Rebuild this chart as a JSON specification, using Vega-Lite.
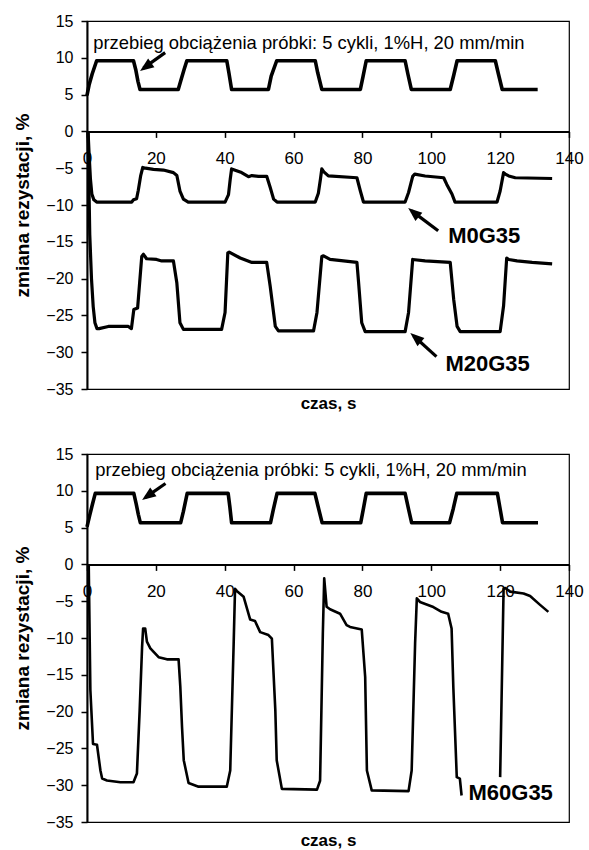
{
  "$schema": "https://vega.github.io/schema/vega-lite/v6.json",
  "background": "white",
  "padding": {"left": 13, "top": 12, "right": 2, "bottom": 0},
  "config": {
    "font": "Liberation Sans",
    "view": {"stroke": "#000", "strokeWidth": 1.2},
    "axis": {"grid": false, "domainColor": "#000", "tickColor": "#000", "labelColor": "#000", "titleColor": "#000", "domainWidth": 2, "tickWidth": 1.5, "labelFont": "Liberation Sans", "titleFont": "Liberation Sans", "labelOverlap": false, "labelSeparation": 0}
  },
  "datasets": {
    "load1": [
      {"t": 0, "v": 4.9}, {"t": 0.6, "v": 6.3}, {"t": 1.5, "v": 7.8}, {"t": 2.8, "v": 9.6},
      {"t": 13.5, "v": 9.6}, {"t": 14.2, "v": 8.3}, {"t": 14.8, "v": 6.8}, {"t": 15.4, "v": 5.7},
      {"t": 26.5, "v": 5.7}, {"t": 27.3, "v": 7.0}, {"t": 28.2, "v": 8.4}, {"t": 29.0, "v": 9.6},
      {"t": 40.6, "v": 9.6}, {"t": 41.2, "v": 8.0}, {"t": 42.0, "v": 5.7},
      {"t": 52.7, "v": 5.7}, {"t": 53.5, "v": 7.5}, {"t": 55.1, "v": 9.6},
      {"t": 66.3, "v": 9.6}, {"t": 67.0, "v": 8.0}, {"t": 68.2, "v": 5.7},
      {"t": 79.4, "v": 5.7}, {"t": 80.2, "v": 7.5}, {"t": 81.1, "v": 9.6},
      {"t": 92.4, "v": 9.6}, {"t": 93.2, "v": 7.8}, {"t": 94.2, "v": 5.7},
      {"t": 105.5, "v": 5.7}, {"t": 106.5, "v": 7.6}, {"t": 107.5, "v": 9.6},
      {"t": 118.6, "v": 9.6}, {"t": 119.5, "v": 7.8}, {"t": 120.6, "v": 5.7},
      {"t": 130.9, "v": 5.7}
    ],
    "m0": [
      {"t": 0.3, "v": 0}, {"t": 0.6, "v": -3.0}, {"t": 1.0, "v": -6.5}, {"t": 1.4, "v": -8.5}, {"t": 2.0, "v": -9.3}, {"t": 2.8, "v": -9.6},
      {"t": 13.0, "v": -9.6}, {"t": 13.5, "v": -9.3}, {"t": 14.4, "v": -9.15}, {"t": 14.9, "v": -8.0}, {"t": 15.6, "v": -6.0}, {"t": 16.2, "v": -4.9},
      {"t": 17.0, "v": -5.0}, {"t": 19.3, "v": -5.15}, {"t": 22.2, "v": -5.25}, {"t": 25.1, "v": -5.6}, {"t": 26.1, "v": -6.0}, {"t": 27.0, "v": -8.1},
      {"t": 28.0, "v": -9.2}, {"t": 29.4, "v": -9.6}, {"t": 40.1, "v": -9.6}, {"t": 41.1, "v": -8.6}, {"t": 41.6, "v": -6.5}, {"t": 42.0, "v": -5.1},
      {"t": 44.9, "v": -5.6}, {"t": 46.9, "v": -6.15}, {"t": 47.9, "v": -6.0}, {"t": 49.8, "v": -6.1}, {"t": 52.2, "v": -6.1}, {"t": 53.2, "v": -7.6},
      {"t": 54.2, "v": -9.2}, {"t": 55.2, "v": -9.6}, {"t": 66.3, "v": -9.6}, {"t": 67.2, "v": -8.4}, {"t": 67.8, "v": -6.5}, {"t": 68.2, "v": -5.1},
      {"t": 68.8, "v": -5.5}, {"t": 70.1, "v": -6.05}, {"t": 78.4, "v": -6.3}, {"t": 79.4, "v": -8.1}, {"t": 80.3, "v": -9.6}, {"t": 92.4, "v": -9.6},
      {"t": 93.4, "v": -8.3}, {"t": 94.6, "v": -6.1}, {"t": 95.2, "v": -5.8}, {"t": 98.2, "v": -6.06}, {"t": 103.6, "v": -6.3}, {"t": 104.5, "v": -7.2},
      {"t": 106.0, "v": -8.5}, {"t": 106.9, "v": -9.6}, {"t": 119.1, "v": -9.6}, {"t": 120.0, "v": -8.1}, {"t": 121.0, "v": -5.6}, {"t": 121.5, "v": -5.8},
      {"t": 122.5, "v": -6.05}, {"t": 124.4, "v": -6.3}, {"t": 135.1, "v": -6.4}
    ],
    "m20": [
      {"t": 0.3, "v": 0}, {"t": 0.8, "v": -14.0}, {"t": 1.3, "v": -20.0}, {"t": 1.8, "v": -23.8}, {"t": 2.3, "v": -26.0}, {"t": 2.9, "v": -26.8},
      {"t": 3.5, "v": -26.8}, {"t": 6.2, "v": -26.5}, {"t": 12.0, "v": -26.5}, {"t": 12.9, "v": -26.8}, {"t": 13.6, "v": -24.2}, {"t": 14.7, "v": -24.0},
      {"t": 15.3, "v": -20.5}, {"t": 15.9, "v": -17.0}, {"t": 16.4, "v": -16.7}, {"t": 17.3, "v": -17.3}, {"t": 20.2, "v": -17.4}, {"t": 21.7, "v": -17.6},
      {"t": 25.1, "v": -17.6}, {"t": 26.1, "v": -20.6}, {"t": 27.0, "v": -26.0}, {"t": 28.0, "v": -26.9}, {"t": 39.1, "v": -26.9}, {"t": 40.1, "v": -24.6},
      {"t": 40.9, "v": -16.5}, {"t": 41.3, "v": -16.4}, {"t": 44.5, "v": -17.2}, {"t": 47.9, "v": -17.8}, {"t": 52.2, "v": -17.8}, {"t": 53.2, "v": -21.0},
      {"t": 54.7, "v": -26.5}, {"t": 55.6, "v": -27.1}, {"t": 65.8, "v": -27.1}, {"t": 66.8, "v": -24.6}, {"t": 68.2, "v": -17.0}, {"t": 68.7, "v": -16.9},
      {"t": 70.6, "v": -17.4}, {"t": 78.4, "v": -17.8}, {"t": 78.9, "v": -20.6}, {"t": 79.8, "v": -26.0}, {"t": 80.8, "v": -27.2}, {"t": 92.4, "v": -27.2},
      {"t": 93.4, "v": -24.6}, {"t": 94.6, "v": -17.4}, {"t": 98.2, "v": -17.6}, {"t": 105.5, "v": -17.8}, {"t": 106.5, "v": -22.8}, {"t": 107.5, "v": -26.5},
      {"t": 108.4, "v": -27.2}, {"t": 120.0, "v": -27.2}, {"t": 121.0, "v": -23.7}, {"t": 121.9, "v": -17.2}, {"t": 122.5, "v": -17.4}, {"t": 124.9, "v": -17.6},
      {"t": 129.3, "v": -17.8}, {"t": 135.1, "v": -18.0}
    ],
    "load2": [
      {"t": 0, "v": 5.1}, {"t": 0.8, "v": 6.7}, {"t": 1.6, "v": 8.2}, {"t": 2.4, "v": 9.65},
      {"t": 13.6, "v": 9.65}, {"t": 14.3, "v": 8.2}, {"t": 14.9, "v": 6.8}, {"t": 15.5, "v": 5.65},
      {"t": 27.2, "v": 5.65}, {"t": 28.0, "v": 7.2}, {"t": 29.1, "v": 9.65},
      {"t": 41.0, "v": 9.65}, {"t": 41.5, "v": 7.8}, {"t": 42.0, "v": 5.65},
      {"t": 53.3, "v": 5.65}, {"t": 54.1, "v": 7.4}, {"t": 55.2, "v": 9.65},
      {"t": 66.2, "v": 9.65}, {"t": 67.1, "v": 7.9}, {"t": 68.3, "v": 5.65},
      {"t": 79.5, "v": 5.65}, {"t": 80.3, "v": 7.6}, {"t": 81.1, "v": 9.65},
      {"t": 92.4, "v": 9.65}, {"t": 93.3, "v": 7.7}, {"t": 94.3, "v": 5.65},
      {"t": 105.3, "v": 5.65}, {"t": 106.4, "v": 7.6}, {"t": 107.4, "v": 9.65},
      {"t": 119.2, "v": 9.65}, {"t": 119.9, "v": 7.8}, {"t": 120.7, "v": 5.65},
      {"t": 131.0, "v": 5.65}
    ],
    "m60": [
      {"seg": "a", "t": 0.5, "v": 0}, {"seg": "a", "t": 0.98, "v": -17.1}, {"seg": "a", "t": 1.75, "v": -24.4}, {"seg": "a", "t": 2.9, "v": -24.5},
      {"seg": "a", "t": 3.9, "v": -28.0}, {"seg": "a", "t": 4.4, "v": -29.1}, {"seg": "a", "t": 5.8, "v": -29.35}, {"seg": "a", "t": 9.7, "v": -29.6},
      {"seg": "a", "t": 13.5, "v": -29.6}, {"seg": "a", "t": 14.5, "v": -28.4}, {"seg": "a", "t": 15.3, "v": -19.8}, {"seg": "a", "t": 16.0, "v": -11.2},
      {"seg": "a", "t": 16.3, "v": -8.7}, {"seg": "a", "t": 16.9, "v": -8.7}, {"seg": "a", "t": 17.4, "v": -10.5}, {"seg": "a", "t": 18.4, "v": -11.4},
      {"seg": "a", "t": 20.8, "v": -12.6}, {"seg": "a", "t": 23.2, "v": -12.9}, {"seg": "a", "t": 26.6, "v": -12.9}, {"seg": "a", "t": 27.1, "v": -16.6},
      {"seg": "a", "t": 27.6, "v": -22.1}, {"seg": "a", "t": 28.1, "v": -26.6}, {"seg": "a", "t": 29.5, "v": -29.7}, {"seg": "a", "t": 32.4, "v": -30.2},
      {"seg": "a", "t": 40.6, "v": -30.2}, {"seg": "a", "t": 41.6, "v": -28.0}, {"seg": "a", "t": 42.6, "v": -10.75}, {"seg": "a", "t": 43.0, "v": -3.3},
      {"seg": "a", "t": 43.5, "v": -3.6}, {"seg": "a", "t": 45.5, "v": -4.4}, {"seg": "a", "t": 47.4, "v": -7.5}, {"seg": "a", "t": 48.8, "v": -7.7},
      {"seg": "a", "t": 50.3, "v": -9.2}, {"seg": "a", "t": 52.7, "v": -9.6}, {"seg": "a", "t": 53.7, "v": -10.1}, {"seg": "a", "t": 54.7, "v": -19.8},
      {"seg": "a", "t": 55.1, "v": -26.6}, {"seg": "a", "t": 56.6, "v": -30.5}, {"seg": "a", "t": 66.8, "v": -30.6}, {"seg": "a", "t": 67.7, "v": -29.4},
      {"seg": "a", "t": 68.5, "v": -9.4}, {"seg": "a", "t": 68.9, "v": -1.9}, {"seg": "a", "t": 69.6, "v": -5.76}, {"seg": "a", "t": 70.6, "v": -6.1},
      {"seg": "a", "t": 73.5, "v": -6.7}, {"seg": "a", "t": 75.4, "v": -8.25}, {"seg": "a", "t": 76.4, "v": -8.5}, {"seg": "a", "t": 79.8, "v": -8.85},
      {"seg": "a", "t": 80.8, "v": -15.3}, {"seg": "a", "t": 81.3, "v": -28.0}, {"seg": "a", "t": 82.7, "v": -30.7}, {"seg": "a", "t": 93.4, "v": -30.8},
      {"seg": "a", "t": 94.3, "v": -28.0}, {"seg": "a", "t": 95.3, "v": -10.75}, {"seg": "a", "t": 95.8, "v": -4.6}, {"seg": "a", "t": 96.7, "v": -5.1},
      {"seg": "a", "t": 100.6, "v": -5.8}, {"seg": "a", "t": 103.0, "v": -6.45}, {"seg": "a", "t": 104.9, "v": -6.7}, {"seg": "a", "t": 105.9, "v": -8.7},
      {"seg": "a", "t": 106.4, "v": -16.65}, {"seg": "a", "t": 107.4, "v": -28.9}, {"seg": "a", "t": 108.3, "v": -29.1}, {"seg": "a", "t": 108.8, "v": -31.4},
      {"seg": "b", "t": 120.0, "v": -28.9}, {"seg": "b", "t": 121.0, "v": -3.3}, {"seg": "b", "t": 121.5, "v": -3.2}, {"seg": "b", "t": 122.9, "v": -3.7},
      {"seg": "b", "t": 126.8, "v": -3.95}, {"seg": "b", "t": 128.7, "v": -4.3}, {"seg": "b", "t": 131.6, "v": -5.5}, {"seg": "b", "t": 134.0, "v": -6.45}
    ]
  },
  "vconcat": [
    {
      "width": 482,
      "height": 368,
      "layer": [
        {
          "data": {"name": "load1"},
          "mark": {"type": "line", "color": "#000", "strokeWidth": 3.6, "strokeJoin": "round"},
          "encoding": {
            "x": {"field": "t", "type": "quantitative", "scale": {"domain": [0, 140], "nice": false},
              "axis": {"values": [0, 20, 40, 60, 80, 100, 120, 140], "tickCount": 20, "offset": -257.6, "title": "czas, s", "titleY": 264, "titleFontSize": 17, "titleFontWeight": "bold", "labelFontSize": 17, "labelPadding": 13, "tickSize": 6, "labelFlush": false, "labelOverlap": false}},
            "y": {"field": "v", "type": "quantitative", "scale": {"domain": [-35, 15], "nice": false},
              "axis": {"values": [-35, -30, -25, -20, -15, -10, -5, 0, 5, 10, 15], "tickCount": 20, "title": "zmiana rezystacji, %", "titleFontSize": 19, "titleFontWeight": "bold", "titlePadding": 13, "labelFontSize": 16, "labelPadding": 8, "tickSize": 6, "labelFlush": false, "labelOverlap": false}}
          }
        },
        {
          "data": {"name": "m0"},
          "mark": {"type": "line", "color": "#000", "strokeWidth": 3.2, "strokeJoin": "round"},
          "encoding": {"x": {"field": "t", "type": "quantitative"}, "y": {"field": "v", "type": "quantitative"}}
        },
        {
          "data": {"name": "m20"},
          "mark": {"type": "line", "color": "#000", "strokeWidth": 3.2, "strokeJoin": "round"},
          "encoding": {"x": {"field": "t", "type": "quantitative"}, "y": {"field": "v", "type": "quantitative"}}
        },
        {
          "data": {"values": [{"t": 1.8, "v": 12.05, "label": "przebieg obciążenia próbki: 5 cykli, 1%H, 20 mm/min"}]},
          "mark": {"type": "text", "align": "left", "baseline": "middle", "fontSize": 18.4, "color": "#000"},
          "encoding": {"x": {"field": "t", "type": "quantitative"}, "y": {"field": "v", "type": "quantitative"}, "text": {"field": "label"}}
        },
        {
          "data": {"values": [{"t": 104.9, "v": -14.2, "label": "M0G35"}, {"t": 104.1, "v": -31.6, "label": "M20G35"}]},
          "mark": {"type": "text", "align": "left", "baseline": "middle", "fontSize": 22, "fontWeight": "bold", "color": "#000"},
          "encoding": {"x": {"field": "t", "type": "quantitative"}, "y": {"field": "v", "type": "quantitative"}, "text": {"field": "label"}}
        },
        {
          "data": {"values": [{"t": 22.7, "v": 10.7, "t2": 16.4, "v2": 8.6}, {"t": 102, "v": -13.5, "t2": 94.3, "v2": -10.8}, {"t": 101.5, "v": -30.6, "t2": 94.9, "v2": -27.8}]},
          "mark": {"type": "rule", "color": "#000", "strokeWidth": 3.2},
          "encoding": {"x": {"field": "t", "type": "quantitative"}, "y": {"field": "v", "type": "quantitative"}, "x2": {"field": "t2"}, "y2": {"field": "v2"}}
        },
        {
          "data": {"values": [{"t": 15.4, "v": 8.2}]},
          "mark": {"type": "point", "shape": "M0,0L0.85,2.2L-0.85,2.2Z", "filled": true, "size": 160, "angle": 234, "color": "#000", "opacity": 1},
          "encoding": {"x": {"field": "t", "type": "quantitative"}, "y": {"field": "v", "type": "quantitative"}}
        },
        {
          "data": {"values": [{"t": 93.3, "v": -10.4}, {"t": 93.9, "v": -27.4}]},
          "mark": {"type": "point", "shape": "M0,0L0.85,2.2L-0.85,2.2Z", "filled": true, "size": 160, "angle": 310, "color": "#000", "opacity": 1},
          "encoding": {"x": {"field": "t", "type": "quantitative"}, "y": {"field": "v", "type": "quantitative"}}
        }
      ]
    },
    {
      "width": 482,
      "height": 368,
      "layer": [
        {
          "data": {"name": "load2"},
          "mark": {"type": "line", "color": "#000", "strokeWidth": 3.6, "strokeJoin": "round"},
          "encoding": {
            "x": {"field": "t", "type": "quantitative", "scale": {"domain": [0, 140], "nice": false},
              "axis": {"values": [0, 20, 40, 60, 80, 100, 120, 140], "tickCount": 20, "offset": -257.6, "title": "czas, s", "titleY": 268, "titleFontSize": 17, "titleFontWeight": "bold", "labelFontSize": 17, "labelPadding": 13, "tickSize": 6, "labelFlush": false, "labelOverlap": false}},
            "y": {"field": "v", "type": "quantitative", "scale": {"domain": [-35, 15], "nice": false},
              "axis": {"values": [-35, -30, -25, -20, -15, -10, -5, 0, 5, 10, 15], "tickCount": 20, "title": "zmiana rezystacji, %", "titleFontSize": 19, "titleFontWeight": "bold", "titlePadding": 13, "labelFontSize": 16, "labelPadding": 8, "tickSize": 6, "labelFlush": false, "labelOverlap": false}}
          }
        },
        {
          "data": {"name": "m60"},
          "mark": {"type": "line", "color": "#000", "strokeWidth": 2.6, "strokeJoin": "round"},
          "encoding": {"x": {"field": "t", "type": "quantitative"}, "y": {"field": "v", "type": "quantitative"}, "detail": {"field": "seg"}}
        },
        {
          "data": {"values": [{"t": 2.4, "v": 12.8, "label": "przebieg obciążenia próbki: 5 cykli, 1%H, 20 mm/min"}]},
          "mark": {"type": "text", "align": "left", "baseline": "middle", "fontSize": 18.4, "color": "#000"},
          "encoding": {"x": {"field": "t", "type": "quantitative"}, "y": {"field": "v", "type": "quantitative"}, "text": {"field": "label"}}
        },
        {
          "data": {"values": [{"t": 110.8, "v": -31.1, "label": "M60G35"}]},
          "mark": {"type": "text", "align": "left", "baseline": "middle", "fontSize": 22, "fontWeight": "bold", "color": "#000"},
          "encoding": {"x": {"field": "t", "type": "quantitative"}, "y": {"field": "v", "type": "quantitative"}, "text": {"field": "label"}}
        },
        {
          "data": {"values": [{"t": 22.8, "v": 11.0, "t2": 17.0, "v2": 9.1}]},
          "mark": {"type": "rule", "color": "#000", "strokeWidth": 3.2},
          "encoding": {"x": {"field": "t", "type": "quantitative"}, "y": {"field": "v", "type": "quantitative"}, "x2": {"field": "t2"}, "y2": {"field": "v2"}}
        },
        {
          "data": {"values": [{"t": 16.0, "v": 8.75}]},
          "mark": {"type": "point", "shape": "M0,0L0.85,2.2L-0.85,2.2Z", "filled": true, "size": 160, "angle": 234, "color": "#000", "opacity": 1},
          "encoding": {"x": {"field": "t", "type": "quantitative"}, "y": {"field": "v", "type": "quantitative"}}
        }
      ]
    }
  ],
  "bounds": "flush",
  "spacing": 65
}
